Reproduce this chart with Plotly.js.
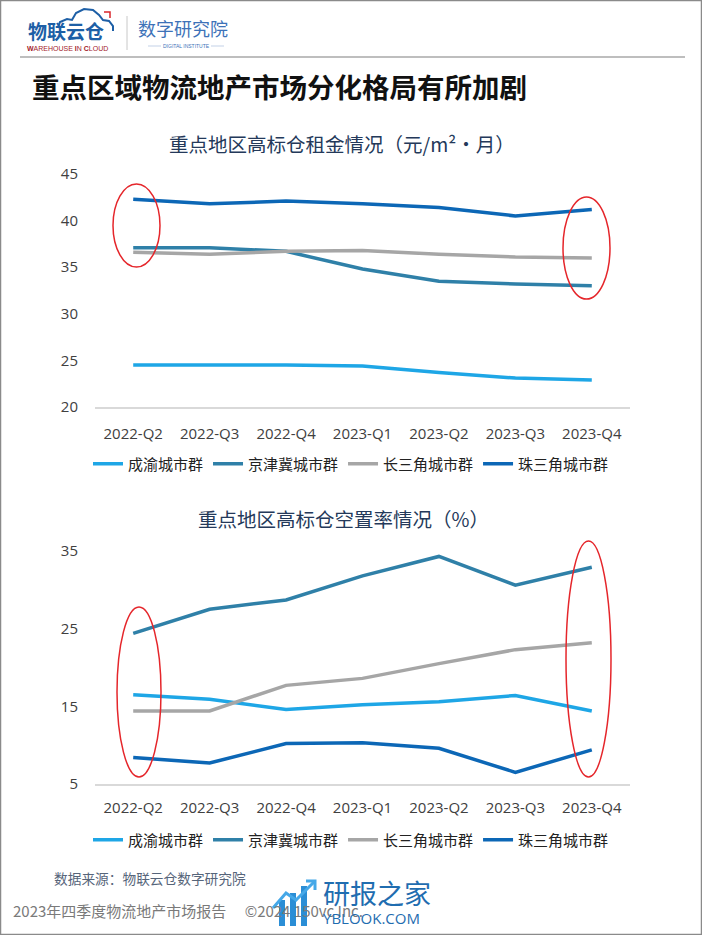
<!DOCTYPE html>
<html>
<head>
<meta charset="utf-8">
<script src="https://cdn.plot.ly/plotly-3.0.1.min.js"></script>
<style>
html,body{margin:0;padding:0;background:#fff;}
#chart{width:702px;height:935px;}
</style>
</head>
<body>
<div id="chart"></div>
<script>
// ---- data ----
var quarters = ["2022-Q2","2022-Q3","2022-Q4","2023-Q1","2023-Q2","2023-Q3","2023-Q4"];
var seriesNames = ["成渝城市群","京津冀城市群","长三角城市群","珠三角城市群"];
// rent (元/m²·月)
var rentChengyu      = [24.5, 24.5, 24.5, 24.4, 23.7, 23.1, 22.9];
var rentJingjinji    = [37.1, 37.1, 36.7, 34.8, 33.5, 33.2, 33.0];
var rentChangsanjiao = [36.6, 36.4, 36.7, 36.8, 36.4, 36.1, 36.0];
var rentZhusanjiao   = [42.3, 41.8, 42.1, 41.8, 41.4, 40.5, 41.2];
// vacancy (%)
var vacChengyu      = [16.5, 15.9, 14.6, 15.2, 15.6, 16.4, 14.4];
var vacJingjinji    = [24.4, 27.5, 28.7, 31.8, 34.3, 30.6, 32.9];
var vacChangsanjiao = [14.4, 14.4, 17.7, 18.6, 20.5, 22.3, 23.2];
var vacZhusanjiao   = [8.4, 7.7, 10.2, 10.3, 9.6, 6.5, 9.4];
var rentTicks = [20,25,30,35,40,45];
var vacTicks = [5,15,25,35];

// ---- styling ----
var W = 702, H = 935;
var colors = ["#1ea6e6","#2f80a8","#a6a6a6","#0c67b6"];
function px(x){return x/W;}
function py(y){return 1-y/H;}
var cjk = "Noto Sans CJK SC, sans-serif";
var num = "Open Sans, Noto Sans CJK SC, sans-serif";

var rentData = [rentChengyu, rentJingjinji, rentChangsanjiao, rentZhusanjiao];
var vacData = [vacChengyu, vacJingjinji, vacChangsanjiao, vacZhusanjiao];
var traces = [];
rentData.forEach(function(d,i){
  traces.push({type:"scatter",mode:"lines",x:quarters,y:d,name:seriesNames[i],
    line:{color:colors[i],width:3.5},xaxis:"x",yaxis:"y",legend:"legend",hoverinfo:"skip"});
});
vacData.forEach(function(d,i){
  traces.push({type:"scatter",mode:"lines",x:quarters,y:d,name:seriesNames[i],
    line:{color:colors[i],width:3.5},xaxis:"x2",yaxis:"y2",legend:"legend2",hoverinfo:"skip"});
});

var xdom = [px(95), px(630)];
function xaxisDef(anchor, standoff){
  return {domain:xdom,anchor:anchor,type:"category",range:[-0.5,6.5],showgrid:false,zeroline:false,
    showline:true,linecolor:"#d9d9d9",linewidth:2,ticks:"outside",ticklen:standoff,tickcolor:"rgba(0,0,0,0)",
    tickfont:{family:num,size:15,color:"#404040"},fixedrange:true};
}
function yaxisDef(anchor, dom, range, ticks){
  return {domain:dom,anchor:anchor,range:range,tickvals:ticks,showgrid:false,zeroline:false,showline:false,
    ticks:"outside",ticklen:13,tickcolor:"rgba(0,0,0,0)",tickfont:{family:num,size:15,color:"#404040"},fixedrange:true};
}

function ellipse(x0,y0,x1,y1){
  return {type:"circle",xref:"paper",yref:"paper",x0:px(x0),x1:px(x1),y0:py(y1),y1:py(y0),
    line:{color:"#e5262b",width:1.5},fillcolor:"rgba(0,0,0,0)",layer:"above"};
}
function pline(x0,y0,x1,y1,c,w){
  return {type:"line",xref:"paper",yref:"paper",x0:px(x0),x1:px(x1),y0:py(y0),y1:py(y1),line:{color:c,width:w}};
}
function prect(x0,y0,x1,y1,c){
  return {type:"rect",xref:"paper",yref:"paper",x0:px(x0),x1:px(x1),y0:py(y1),y1:py(y0),line:{width:0},fillcolor:c};
}
function ppath(pts,c,w){
  var s = pts.map(function(p,i){return (i?"L":"M")+px(p[0]).toFixed(5)+","+py(p[1]).toFixed(5);}).join(" ");
  return {type:"path",xref:"paper",yref:"paper",path:s,line:{color:c,width:w}};
}
function ann(text,x,y,font,xa,ya){
  return {text:text,xref:"paper",yref:"paper",x:px(x),y:py(y),xanchor:xa||"left",yanchor:ya||"middle",
    showarrow:false,font:font};
}

var shapes = [
  // frame
  {type:"rect",xref:"paper",yref:"paper",x0:px(0.5),x1:px(701.5),y0:py(934.5),y1:py(0.5),line:{color:"#8a8a8a",width:1.5}},
  // header rule and divider
  pline(20,57,685,57,"#a8a8a8",1.5),
  pline(127,16,127,50,"#c8c8c8",1),
  // cloud outline of logo
  ppath([[58,28],[60,22],[67,19],[72,20],[76,13],[84,9],[93,10],[99,15],[103,20],[109,21],[113,26],[113,31]],"#1d5fa6",2),
  ppath([[104,12],[110,12],[110,18]],"#d9262b",1.5),
  pline(148,46,161,46,"#9ab3d6",0.6),
  pline(211,46,224,46,"#9ab3d6",0.6),
  // ellipses
  ellipse(113,184,160,267),
  ellipse(563,197,610,299),
  ellipse(117,607,161,777),
  ellipse(566,541,611,777),
  // watermark icon
  prect(279,900,285,926,"#2b8ed6"),
  prect(290,893,296,926,"#2b8ed6"),
  prect(301,886,307,926,"#2b8ed6"),
  ppath([[273,908],[286,893],[296,900],[314,882]],"#45a8e8",3),
  ppath([[306,881],[315,881],[315,890]],"#45a8e8",3)
];

var annotations = [
  ann("<b>物联云仓</b>",26,30,{family:cjk,size:19,color:"#1d5fa6"}),
  ann("<b>W</b>AREHOUSE <b>I</b>N <b>C</b>LOUD",25,49,{family:"Liberation Sans, Arial, sans-serif",size:7,color:"#a3222b"}),
  ann("数字研究院",136,28,{family:cjk,size:18,color:"#3d72b8"}),
  ann("DIGITAL INSTITUTE",186,46.5,{family:"Liberation Sans, Arial, sans-serif",size:5,color:"#3d72b8"},"center"),
  ann("重点地区高标仓租金情况（元/m²·月）",342,143,{family:cjk,size:19.5,color:"#24395a"},"center"),
  ann("重点地区高标仓空置率情况（%）",343,518,{family:cjk,size:19.5,color:"#24395a"},"center"),
  ann("数据来源：物联云仓数字研究院",52,878,{family:cjk,size:13.7,color:"#56657a"}),
  ann("2023年四季度物流地产市场报告　 ©2024 150vc Inc.",11,910,{family:cjk,size:15,color:"#7a7a7a"}),
  ann("研报之家",321,892,{family:cjk,size:27,color:"#1f6db0"}),
  ann("YBLOOK.COM",321,918,{family:num,size:15,color:"#1f6db0"})
];

var layout = {
  width:W,height:H,margin:{l:0,r:0,t:0,b:0},paper_bgcolor:"#fff",plot_bgcolor:"#fff",
  title:{text:"<b>重点区域物流地产市场分化格局有所加剧</b>",x:px(32),xanchor:"left",xref:"paper",
    y:py(88),yanchor:"middle",yref:"paper",font:{family:cjk,size:27.5,color:"#111"}},
  xaxis:xaxisDef("y",12),
  yaxis:yaxisDef("x",[py(407),py(174)],[20,45],rentTicks),
  xaxis2:xaxisDef("y2",9),
  yaxis2:yaxisDef("x2",[py(784),py(551)],[5,35],vacTicks),
  legend:{orientation:"h",x:px(88),xanchor:"left",y:py(464),yanchor:"middle",
    font:{family:cjk,size:15,color:"#222"},itemwidth:30,bgcolor:"rgba(0,0,0,0)",itemclick:false,itemdoubleclick:false},
  legend2:{orientation:"h",x:px(88),xanchor:"left",y:py(840),yanchor:"middle",
    font:{family:cjk,size:15,color:"#222"},itemwidth:30,bgcolor:"rgba(0,0,0,0)",itemclick:false,itemdoubleclick:false},
  shapes:shapes,
  annotations:annotations,
  showlegend:true
};

Plotly.newPlot("chart",traces,layout,{displayModeBar:false,staticPlot:true});
</script>
</body>
</html>
